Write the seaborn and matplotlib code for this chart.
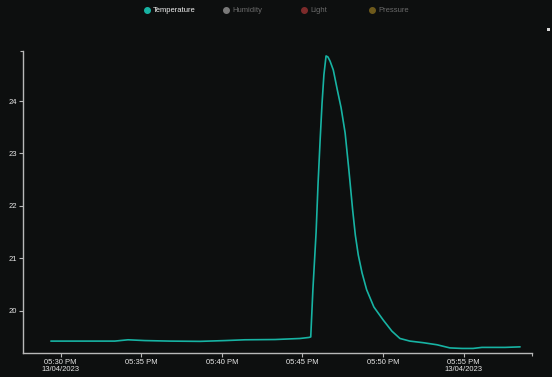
import matplotlib
matplotlib.use("Agg")
import matplotlib.pyplot as plt
import matplotlib.dates as mdates
from matplotlib.lines import Line2D
from matplotlib.patches import Rectangle
import seaborn as sns
import pandas as pd

# ---- data ----
times = ["17:29:24", "17:31:49", "17:33:22", "17:34:11", "17:35:14", "17:36:47",
         "17:38:39", "17:40:12", "17:41:26", "17:43:18", "17:44:51", "17:45:25",
         "17:45:31", "17:45:39", "17:45:51", "17:45:58", "17:46:06", "17:46:13",
         "17:46:20", "17:46:28", "17:46:35", "17:46:43", "17:46:55", "17:47:10",
         "17:47:24", "17:47:39", "17:47:53", "17:48:07", "17:48:17", "17:48:28",
         "17:48:42", "17:48:59", "17:49:26", "17:50:01", "17:50:33", "17:51:03",
         "17:51:40", "17:52:29", "17:53:21", "17:54:09", "17:54:54", "17:55:35",
         "17:56:08", "17:56:38", "17:57:34", "17:58:30"]
temperature = [19.42, 19.42, 19.42, 19.445, 19.43, 19.42,
               19.415, 19.43, 19.445, 19.45, 19.47, 19.49,
               19.50, 20.40, 21.50, 22.40, 23.26, 23.95,
               24.50, 24.86, 24.84, 24.76, 24.59, 24.21,
               23.87, 23.39, 22.68, 21.92, 21.44, 21.06,
               20.72, 20.40, 20.07, 19.82, 19.61, 19.47,
               19.42, 19.39, 19.35, 19.29, 19.28, 19.28,
               19.30, 19.30, 19.30, 19.31]
y_ticks = [20, 21, 22, 23, 24]
series_names = ["Temperature", "Humidity", "Light", "Pressure"]
series_colors = ["#17b3a3", "#7a7a7a", "#7d2b2b", "#6e5a1c"]
label_colors = ["#f0f0f0", "#6a6a6a", "#6a6a6a", "#6a6a6a"]
date_str = "2023-04-13"

bg = "#0d0f0f"
axis_col = "#b8b8b8"
tick_col = "#e6e6e6"

df = pd.DataFrame({
    "time": pd.to_datetime([f"{date_str} {t}" for t in times]),
    "Temperature": temperature,
})

sns.set_theme(style="dark")
plt.rcParams["font.family"] = ["Liberation Sans", "DejaVu Sans"]

fig = plt.figure(figsize=(5.52, 3.77), dpi=100, facecolor=bg)
ax = fig.add_axes([23 / 552, 1 - 353 / 377, (532 - 23) / 552, (353 - 51) / 377])
ax.set_facecolor(bg)

sns.lineplot(data=df, x="time", y="Temperature", ax=ax, color=series_colors[0],
             linewidth=1.2, legend=False)

t0 = pd.Timestamp(f"{date_str} 17:30:00")
xmin = t0 + pd.Timedelta(minutes=-2.33)
xmax = t0 + pd.Timedelta(minutes=29.24)
ax.set_xlim(xmin, xmax)
ax.set_ylim(19.193, 24.954)

xt = [t0 + pd.Timedelta(minutes=5 * i) for i in range(6)]
ax.set_xticks(xt)
labels = []
for i, t in enumerate(xt):
    s = t.strftime("%I:%M %p")
    if i == 0 or i == len(xt) - 1:
        s += "\n" + t.strftime("%d/%m/%Y")
    labels.append(s)
ax.set_xticklabels(labels, linespacing=0.9)
ax.set_yticks(y_ticks)
ax.set_yticklabels([str(v) for v in y_ticks])
ax.set_xlabel("")
ax.set_ylabel("")
ax.grid(False)

for side in ["top", "right"]:
    ax.spines[side].set_visible(False)
for side in ["left", "bottom"]:
    ax.spines[side].set_visible(True)
    ax.spines[side].set_color(axis_col)
    ax.spines[side].set_linewidth(1.0)

ax.tick_params(axis="both", colors=axis_col, labelcolor=tick_col, labelsize=5.5,
               length=3, width=0.8, pad=1.5, bottom=True, left=True)
# outer ticks at domain ends
ax.set_yticks([24.954], minor=True)
ax.set_xticks([mdates.date2num(xmax)], minor=True)
ax.tick_params(axis="both", which="minor", colors=axis_col, length=2, width=0.8,
               bottom=True, left=True)

# legend (top)
leg_y = 1 - 10 / 377
marker_x = [147, 226, 304, 372]
for name, mc, lc, mx in zip(series_names, series_colors, label_colors, marker_x):
    fig.add_artist(Line2D([mx / 552], [leg_y], marker="o", markersize=4,
                          color=mc, linestyle="none", transform=fig.transFigure))
    fig.text((mx + 6) / 552, leg_y, name, color=lc, fontsize=5.5,
             va="center", ha="left")

# small icon at top right
fig.add_artist(Rectangle((547 / 552, 1 - 31 / 377), 3 / 552, 3 / 377,
                         transform=fig.transFigure, facecolor="#d8d8d8",
                         edgecolor="none"))

fig.savefig("out.png", dpi=100, facecolor=bg)
